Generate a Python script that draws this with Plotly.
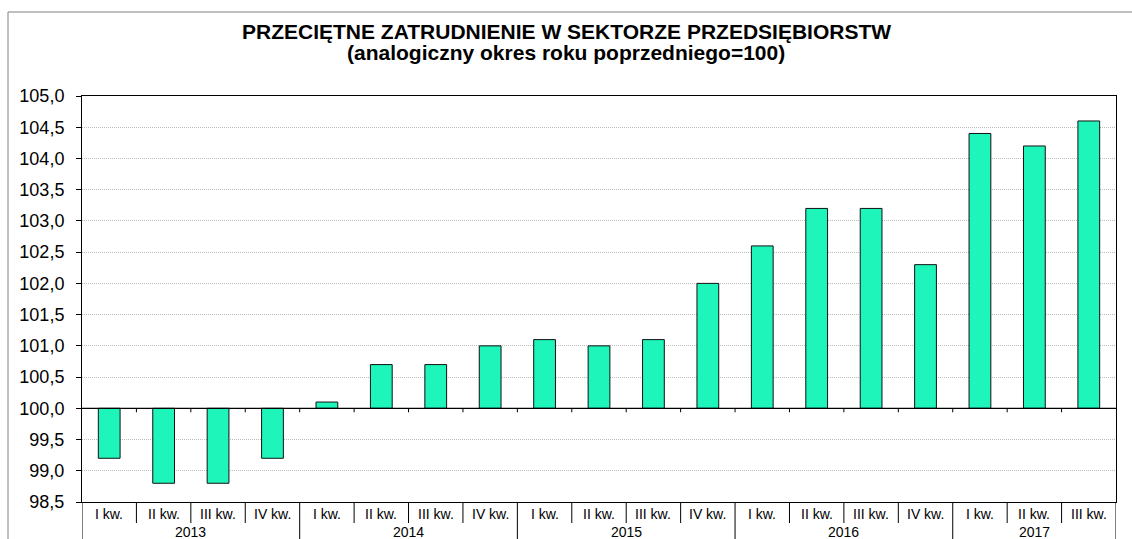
import plotly.graph_objects as go

years = ["2013", "2014", "2015", "2016", "2017"]
quarters_per_year = [4, 4, 4, 4, 3]
quarter_labels = ["I kw.", "II kw.", "III kw.", "IV kw."]
values = [99.2, 98.8, 98.8, 99.2,
          100.1, 100.7, 100.7, 101.0,
          101.1, 101.0, 101.1, 102.0,
          102.6, 103.2, 103.2, 102.3,
          104.4, 104.2, 104.6]
baseline = 100.0
y_min, y_max, y_step = 98.5, 105.0, 0.5
title_lines = ["PRZECIĘTNE ZATRUDNIENIE W SEKTORZE PRZEDSIĘBIORSTW",
               "(analogiczny okres roku poprzedniego=100)"]

W, H = 1132, 539
ML, MR, MT, MB = 82, 16, 96, 37
PW, PH = W - ML - MR, H - MT - MB
FONT = "Liberation Sans, Arial"

n = len(values)
xs = list(range(n))
q_labels = []
for cnt in quarters_per_year:
    q_labels += quarter_labels[:cnt]

fig = go.Figure()
fig.add_trace(go.Bar(
    x=xs, y=[v - baseline for v in values], base=baseline,
    marker=dict(color="#1EF5BA", line=dict(color="#111111", width=1)),
    width=0.4, hoverinfo="skip", showlegend=False,
))

shapes = []
shapes.append(dict(type="line", xref="paper", yref="y", x0=0, x1=1, y0=baseline, y1=baseline,
                   line=dict(color="black", width=1.2)))
px_per_unit = PH / (y_max - y_min)
for i in range(n - 1):
    b = i + 0.5
    shapes.append(dict(type="line", xref="x", yref="y", x0=b, x1=b, y0=baseline,
                       y1=baseline - 4 / px_per_unit, line=dict(color="black", width=1)))

year_bounds = [-0.5]
acc = -0.5
for cnt in quarters_per_year:
    acc += cnt
    year_bounds.append(acc)
for i in range(n + 1):
    b = i - 0.5
    long = any(abs(b - yb) < 1e-9 for yb in year_bounds)
    y1 = -(MB + 5) / PH if long else -21 / PH
    shapes.append(dict(type="line", xref="x", yref="paper", x0=b, x1=b, y0=0, y1=y1,
                       line=dict(color="black", width=1)))

shapes.append(dict(type="rect", xref="paper", yref="paper",
                   x0=(8 - ML) / PW, x1=(W + 5 - ML) / PW,
                   y0=-(MB + 5) / PH, y1=1 + (MT - 12) / PH,
                   line=dict(color="#808080", width=1), fillcolor="rgba(0,0,0,0)", layer="below"))

annotations = []
for i, lab in enumerate(q_labels):
    annotations.append(dict(x=i, y=-12 / PH, xref="x", yref="paper", text=lab, showarrow=False,
                            font=dict(family=FONT, size=14, color="black"),
                            yanchor="middle", xanchor="center"))
start = 0
for yr, cnt in zip(years, quarters_per_year):
    cx = start + (cnt - 1) / 2
    annotations.append(dict(x=cx, y=-30 / PH, xref="x", yref="paper", text=yr, showarrow=False,
                            font=dict(family=FONT, size=14, color="black"),
                            yanchor="middle", xanchor="center"))
    start += cnt

for k, line in enumerate(title_lines):
    annotations.append(dict(x=(566 - ML) / PW, y=1 + (MT - [32, 53][k]) / PH, xref="paper", yref="paper",
                            text="<b>%s</b>" % line, showarrow=False,
                            font=dict(family=FONT, size=21, color="black"),
                            xanchor="center", yanchor="middle"))

ticks = []
v = y_min
while v <= y_max + 1e-9:
    ticks.append(round(v, 1))
    v += y_step

fig.update_layout(
    width=W, height=H,
    margin=dict(l=ML, r=MR, t=MT, b=MB, autoexpand=False),
    paper_bgcolor="white", plot_bgcolor="white",
    separators=", ",
    shapes=shapes, annotations=annotations,
    xaxis=dict(range=[-0.5, n - 0.5], showticklabels=False, showgrid=False, zeroline=False,
               showline=True, mirror=True, linecolor="black", linewidth=1, ticks=""),
    yaxis=dict(range=[y_min, y_max], tickvals=ticks, tickformat=".1f",
               showgrid=True, gridcolor="#bdbdbd", griddash="1px,1px", gridwidth=1,
               zeroline=False, showline=True, mirror=True, linecolor="black", linewidth=1,
               ticks="outside", ticklen=5, tickcolor="black", ticklabelstandoff=8,
               tickfont=dict(family=FONT, size=18, color="black")),
    bargap=0.6,
)

fig.write_html("out.html", config={"displayModeBar": False},
               post_script="document.body.style.margin='0';document.body.style.overflow='hidden';")
